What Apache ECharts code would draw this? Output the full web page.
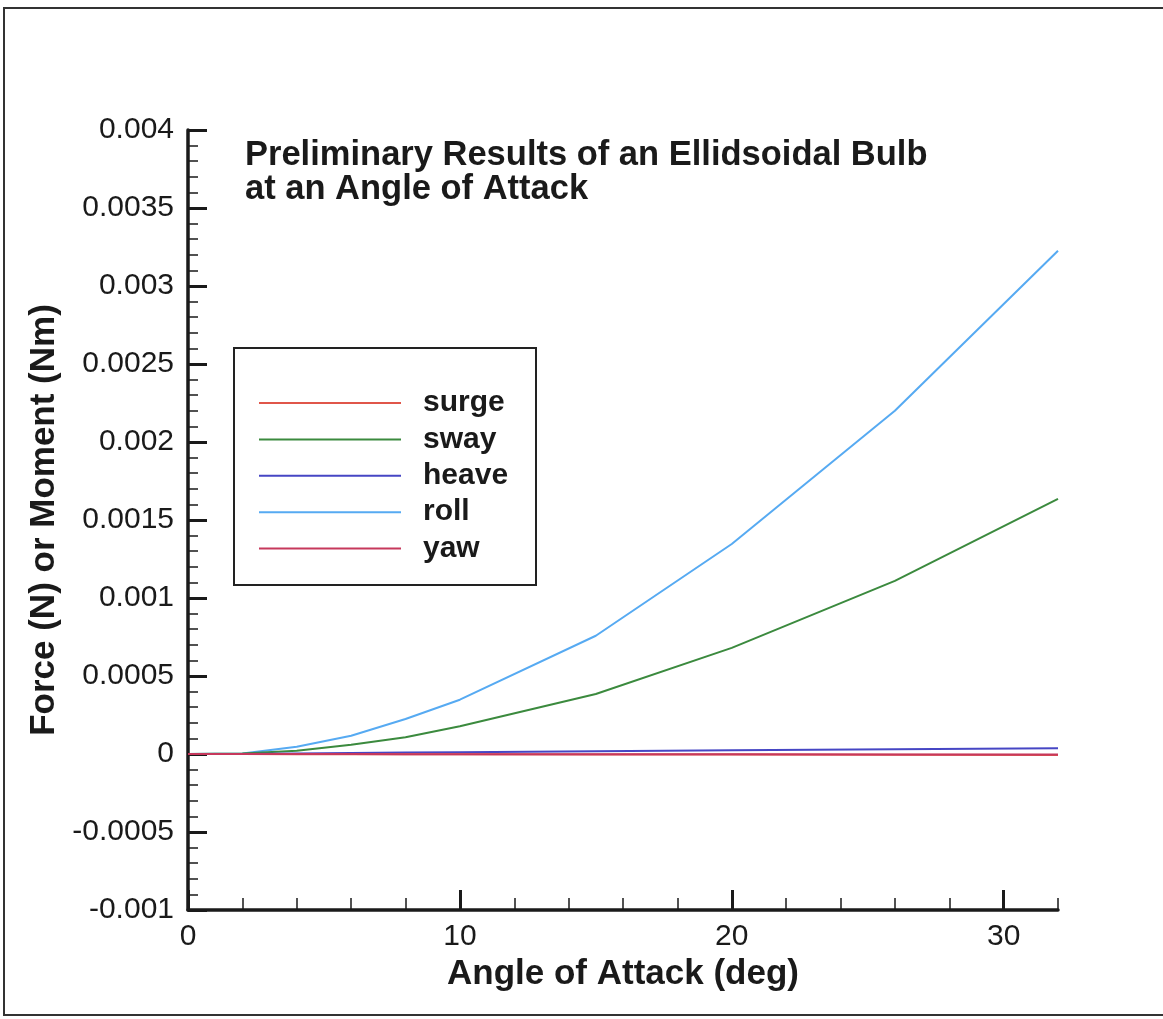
<!DOCTYPE html>
<html>
<head>
<meta charset="utf-8">
<script src="https://cdn.jsdelivr.net/npm/echarts@6/dist/echarts.min.js"></script>
<style>html,body{margin:0;padding:0;background:#fff}#c{width:1163px;height:1019px}</style>
</head>
<body>
<div id="c"></div>
<script>
const angles = [0, 2, 4, 6, 8, 10, 15, 20, 26, 32];
const surge = [0, 0, -0.000001, -0.000001, -0.000002, -0.000002, -0.000003, -0.000004, -0.000005, -0.000006];
const sway = [0, 0.000003, 0.000021, 0.00006, 0.000107, 0.000178, 0.000385, 0.00068, 0.00111, 0.001635];
const heave = [0, 0, 0.000003, 0.000006, 0.000009, 0.000012, 0.000018, 0.000024, 0.00003, 0.000037];
const roll = [0, 0.000003, 0.000047, 0.000117, 0.000224, 0.000348, 0.000758, 0.001346, 0.0022, 0.003226];
const yaw = [0, 0, 0, 0, -0.000001, -0.000001, -0.000002, -0.000002, -0.000003, -0.000003];
const xMajorTicks = [0, 10, 20, 30];
const xEndTick = [32];
const titleText = 'Preliminary Results of an Ellidsoidal Bulb\nat an Angle of Attack';

const FONT = '"Liberation Sans", Arial, Helvetica, sans-serif';
function pairs(ys) { return angles.map((a, i) => [a, ys[i]]); }
function line(name, data, color) {
  return { name, type: 'line', data: pairs(data), symbol: 'none', showSymbol: false,
    lineStyle: { color, width: 2 }, itemStyle: { color }, z: 3, animation: false };
}
const chart = echarts.init(document.getElementById('c'));
chart.setOption({
  animation: false,
  backgroundColor: '#fff',
  title: { text: titleText, left: 240, top: 133,
    textStyle: { fontFamily: FONT, fontWeight: 'bold', fontSize: 34.5, lineHeight: 34, color: '#1a1a1a' } },
  graphic: [
    { type: 'rect', shape: { x: 4, y: 8, width: 1175, height: 1007 }, style: { fill: 'none', stroke: '#333', lineWidth: 2 }, z: -1 },
    { type: 'rect', shape: { x: 234, y: 348, width: 302, height: 237 }, style: { fill: '#fff', stroke: '#222', lineWidth: 2 }, z: 10 }
  ],
  legend: {
    orient: 'vertical', left: 259, top: 388, z: 20, padding: 0,
    itemWidth: 142, itemHeight: 14, itemGap: 6.4,
    icon: 'path://M0,0 L71,0 L71,1 L0,1 Z',
    textStyle: { fontFamily: FONT, fontWeight: 'bold', fontSize: 30, lineHeight: 30, color: '#1a1a1a', padding: [0, 0, 0, 17] },
    data: ['surge', 'sway', 'heave', 'roll', 'yaw']
  },
  grid: { left: 188, right: 105, top: 130, bottom: 109, containLabel: false },
  xAxis: [{
    type: 'value', min: 0, max: 32, interval: 10,
    name: 'Angle of Attack (deg)', nameLocation: 'middle', nameGap: 39,
    nameTextStyle: { fontFamily: FONT, fontWeight: 'bold', fontSize: 35, color: '#1a1a1a' },
    axisLine: { show: true, onZero: false, lineStyle: { color: '#1a1a1a', width: 3.5 } },
    axisTick: { show: true, inside: true, length: 20, customValues: xMajorTicks, lineStyle: { color: '#1a1a1a', width: 3 } },
    minorTick: { show: true, splitNumber: 5, length: 12, lineStyle: { color: '#1a1a1a', width: 1.5 } },
    axisLabel: { customValues: xMajorTicks, margin: 12, fontFamily: FONT, fontSize: 30, color: '#1a1a1a' },
    splitLine: { show: false }
  }, {
    type: 'value', min: 0, max: 32, interval: 10, position: 'bottom',
    axisLine: { show: false, onZero: false },
    axisTick: { show: true, inside: true, length: 12, customValues: xEndTick, lineStyle: { color: '#1a1a1a', width: 1.5 } },
    axisLabel: { show: false },
    splitLine: { show: false }
  }],
  yAxis: {
    type: 'value', min: -0.001, max: 0.004, interval: 0.0005,
    name: 'Force (N) or Moment (Nm)', nameLocation: 'middle', nameGap: 122, nameRotate: 90,
    nameTextStyle: { fontFamily: FONT, fontWeight: 'bold', fontSize: 35, color: '#1a1a1a' },
    axisLine: { show: true, onZero: false, lineStyle: { color: '#1a1a1a', width: 3.5 } },
    axisTick: { show: true, inside: true, length: 19, lineStyle: { color: '#1a1a1a', width: 3 } },
    minorTick: { show: true, splitNumber: 5, length: 10, lineStyle: { color: '#1a1a1a', width: 1.5 } },
    axisLabel: { margin: 14, fontFamily: FONT, fontSize: 30, color: '#1a1a1a',
      formatter: v => String(parseFloat(v.toPrecision(6))) },
    splitLine: { show: false }
  },
  series: [
    line('roll', roll, '#56aaf2'),
    line('sway', sway, '#3b8a3e'),
    line('heave', heave, '#4646c4'),
    line('surge', surge, '#e0564a'),
    line('yaw', yaw, '#c6385c')
  ]
});
</script>
</body>
</html>
